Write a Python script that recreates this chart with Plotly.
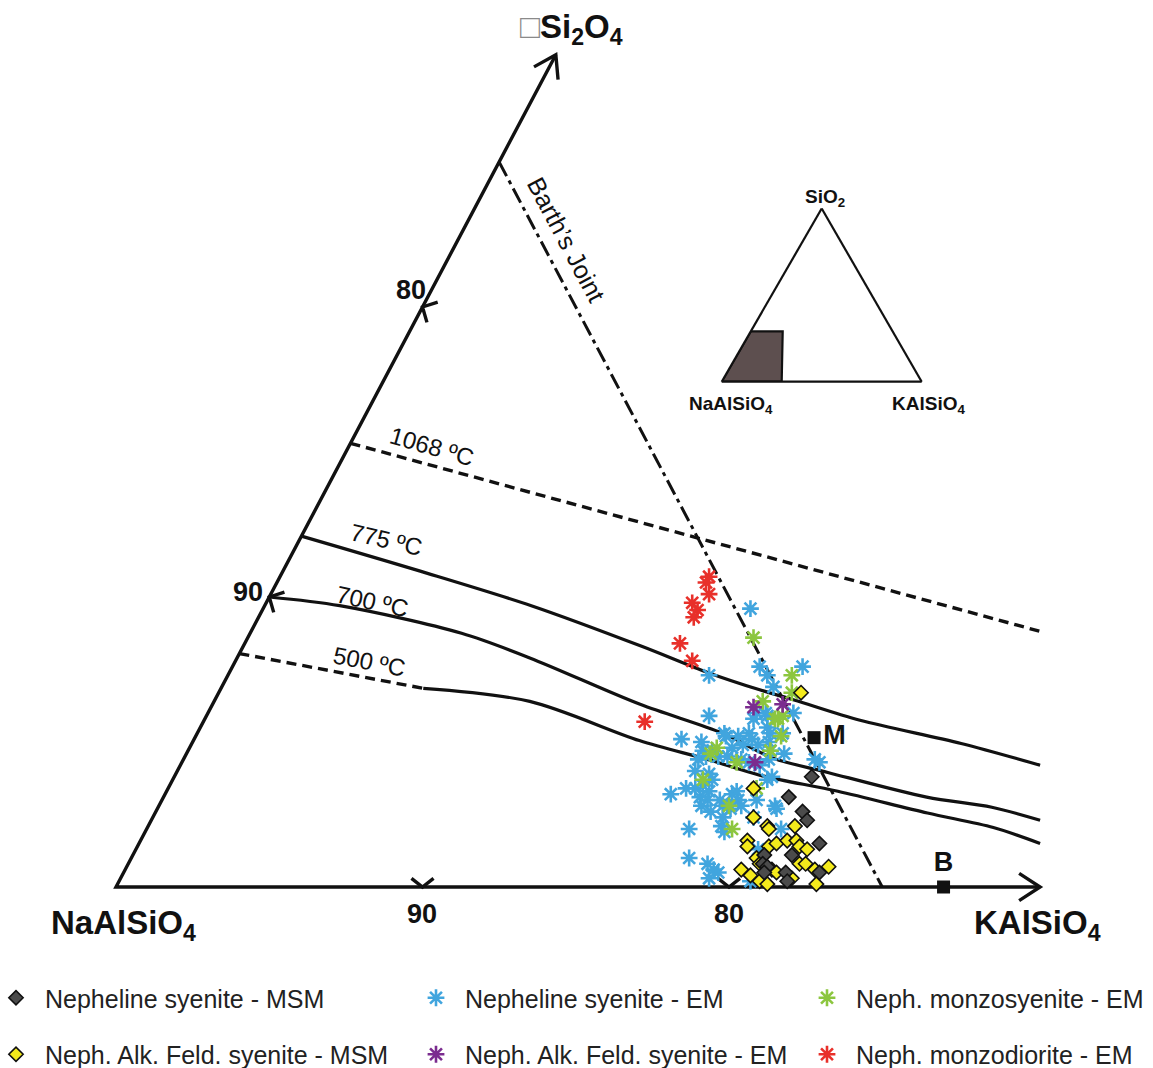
import math
import plotly.graph_objects as go

# ---------------------------------------------------------------------------
# Compositions in wt% (Ks = KAlSiO4, Qz = Si2O4; NaAlSiO4 = 100 - Ks - Qz)
# ---------------------------------------------------------------------------
NS_MSM_KS = [20.8, 20.4, 21.1, 21.4, 22.2, 21.5, 20.6, 20.7, 20.9, 21.6, 21.8, 20.9, 22.7]
NS_MSM_QZ = [3.8, 3.1, 2.6, 2.3, 1.5, 1.1, 1.1, 0.8, 0.7, 0.5, 0.2, 0.5, 0.5]

NAFS_MSM_KS = [19.0, 19.1, 19.6, 20.2, 20.3, 21.1, 19.8, 20.6, 20.8, 21.1, 21.4, 21.6, 21.9, 19.9,
               20.4, 20.6, 21.1, 20.1, 20.5, 20.9, 21.2, 21.3, 21.9, 21.9, 22.1, 22.5, 22.9, 22.8]
NAFS_MSM_QZ = [6.7, 3.4, 2.4, 2.1, 2.0, 2.1, 1.6, 1.4, 1.5, 1.6, 1.6, 1.4, 1.3, 1.4,
               1.0, 0.8, 0.6, 0.6, 0.4, 0.2, 0.1, 0.5, 0.3, 0.8, 0.8, 0.6, 0.7, 0.1]

NS_EM_KS = [15.9, 17.2, 17.6, 18.0, 18.6, 15.7, 16.4, 19.1, 17.9, 18.2, 18.3, 17.9, 17.2, 17.7,
            18.0, 15.9, 18.5, 18.7, 19.1, 17.3, 18.2, 18.0, 17.7, 18.5, 18.8, 19.0, 19.5, 16.6,
            16.8, 17.1, 16.8, 17.0, 17.4, 17.7, 18.2, 18.5, 18.9, 19.1, 19.4, 19.5, 16.9, 17.4,
            17.6, 17.4, 17.7, 17.5, 17.8, 17.2, 16.9, 16.5, 18.2, 18.4, 18.5, 18.8, 19.0, 18.7,
            18.6, 18.7, 18.9, 18.6, 17.7, 18.1, 19.4, 20.1, 20.2, 19.6, 17.7, 20.7, 18.2, 18.9,
            19.2, 19.4, 19.2, 20.6, 20.3, 20.6, 20.8]
NS_EM_QZ = [9.6, 7.6, 7.3, 6.9, 7.6, 7.3, 5.9, 6.0, 6.0, 6.0, 5.9, 5.8, 5.3, 5.2,
            5.3, 5.1, 5.5, 5.3, 5.3, 5.2, 5.1, 4.9, 4.8, 4.9, 5.0, 4.7, 4.6, 5.0,
            4.7, 4.7, 4.4, 4.5, 4.5, 4.5, 4.4, 4.3, 4.2, 4.4, 3.7, 3.8, 4.0, 3.9,
            3.7, 3.5, 3.3, 3.1, 3.0, 3.4, 3.4, 3.2, 3.0, 2.8, 3.2, 3.0, 2.8, 2.7,
            2.4, 2.1, 1.9, 3.3, 2.8, 2.6, 3.0, 2.8, 2.7, 2.4, 2.0, 2.0, 1.0, 0.8,
            0.6, 0.5, 0.3, 0.2, 1.3, 4.4, 4.3]

NMS_EM_KS = [16.5, 18.4, 18.7, 17.9, 18.7, 18.8, 17.2, 17.1, 18.1, 17.3, 19.2, 18.6, 19.1, 19.0, 19.1, 18.6]
NMS_EM_QZ = [8.6, 7.3, 6.7, 6.4, 5.8, 5.9, 4.8, 4.6, 4.3, 3.7, 3.4, 2.8, 2.0, 4.7, 5.2, 5.8]

NAFS_EM_KS = [17.7, 18.6, 18.7]
NAFS_EM_QZ = [6.2, 6.3, 4.3]

NMD_EM_KS = [14.0, 14.0, 14.3, 13.9, 14.2, 14.2, 14.2, 14.9, 14.4]
NMD_EM_QZ = [10.7, 10.5, 10.1, 9.8, 9.55, 9.3, 8.4, 7.8, 5.7]

# Reference compositions
REF_NAMES = ["M", "B"]
REF_KS = [20.2, 27.0]
REF_QZ = [5.15, 0.0]

# Isotherms of the minimum-melt trough
T1068_KS = [0.0, 25.8]
T1068_QZ = [15.3, 8.8]
T775_KS = [0.0, 4.45, 8.7, 13.0, 15.6, 17.6, 18.9, 21.4, 25.1, 28.05]
T775_QZ = [12.1, 10.9, 9.7, 8.3, 7.4, 6.8, 6.45, 5.75, 4.95, 4.2]
T700_KS = [0.0, 2.45, 6.9, 9.55, 13.95, 17.15, 19.2, 21.25, 24.9, 27.2, 29.0]
T700_QZ = [10.0, 9.7, 8.75, 7.9, 6.3, 5.3, 4.45, 3.95, 3.1, 2.75, 2.3]
T500_KS = [0.0, 6.6, 10.3, 14.55, 17.1, 19.1, 21.9, 25.2, 27.6, 29.4]
T500_QZ = [8.05, 6.85, 6.4, 5.05, 4.4, 3.85, 3.3, 2.55, 2.05, 1.5]
T500_DASHED_UNTIL = 2   # first segment (to Ks 6.6) is drawn dashed

# Barth's joint: line of constant NaAlSiO4 = 75 %
BARTH_KS = [0.0, 25.0]
BARTH_QZ = [25.0, 0.0]

# Axis extents and ticks (percent)
KS_AXIS_END = 30.15
QZ_AXIS_END = 28.7
TICK_VALUES = [10, 20]
TICK_LABELS = ["90", "80"]

# Inset: full system with the enlarged field shaded (SiO2, NaAlSiO4, KAlSiO4 in %)
INSET_A = [0, 0, 29, 29, 0]
INSET_B = [100, 70, 55, 71, 100]
INSET_C = [0, 30, 16, 0, 0]

# ---------------------------------------------------------------------------
W, H = 1153, 1068
X0, Y0 = 116.0, 887.0      # pixel position of the NaAlSiO4 corner
SX, SY = 30.65, 29.0       # pixels per percent (horizontal, vertical)
FONT = "Liberation Sans, Arial, Helvetica, sans-serif"


def cart(ks, qz):
    """Ternary (Ks, Qz) -> plot coordinates."""
    return [k + q / 2.0 for k, q in zip(ks, qz)], list(qz)


def paper(xp, yp):
    return xp / W, 1 - yp / H


def chevron(x, y, centre_deg, half_deg, arm_px):
    """Two arms leaving the vertex (x, y) around a screen direction (y up)."""
    xs, ys = [], []
    for s in (1, -1):
        a = math.radians(centre_deg + s * half_deg)
        xs.append(x + arm_px * math.cos(a) / SX)
        ys.append(y + arm_px * math.sin(a) / SY)
    return [xs[0], x, xs[1], None], [ys[0], y, ys[1], None]


fig = go.Figure()

# --- triangle axes, arrowheads and ticks -----------------------------------
ax_x, ax_y = cart([KS_AXIS_END, 0.0, 0.0], [0.0, 0.0, QZ_AXIS_END])
left_dir = math.degrees(math.atan2(ax_y[2] * SY, ax_x[2] * SX))
frame_x, frame_y = list(ax_x) + [None], list(ax_y) + [None]
for (vx, vy), d in (((ax_x[0], ax_y[0]), 0.0), ((ax_x[2], ax_y[2]), left_dir)):
    cx_, cy_ = chevron(vx, vy, d + 180, 33, 25)
    frame_x += cx_
    frame_y += cy_
bt_x, bt_y = cart(TICK_VALUES, [0.0] * len(TICK_VALUES))
lt_x, lt_y = cart([0.0] * len(TICK_VALUES), TICK_VALUES)
for vx, vy in zip(bt_x, bt_y):
    cx_, cy_ = chevron(vx, vy, 90, 52, 14)
    frame_x += cx_
    frame_y += cy_
for vx, vy in zip(lt_x, lt_y):
    cx_, cy_ = chevron(vx, vy, left_dir - 90, 46, 16)
    frame_x += cx_
    frame_y += cy_
fig.add_trace(go.Scatter(x=frame_x, y=frame_y, mode="lines", showlegend=False, hoverinfo="skip",
                         line=dict(color="#111", width=3.4)))


# --- isotherms and Barth's joint -------------------------------------------
def add_curve(ks, qz, dash="solid", shape="spline", width=3.2):
    x, y = cart(ks, qz)
    fig.add_trace(go.Scatter(x=x, y=y, mode="lines", showlegend=False, hoverinfo="skip",
                             line=dict(color="#111", width=width, dash=dash, shape=shape,
                                       smoothing=0.9)))


add_curve(T1068_KS, T1068_QZ, dash="10px,6px", shape="linear", width=3.4)
add_curve(T775_KS, T775_QZ)
add_curve(T700_KS, T700_QZ)
add_curve(T500_KS[:T500_DASHED_UNTIL], T500_QZ[:T500_DASHED_UNTIL], dash="10px,6px",
          shape="linear", width=3.4)
add_curve(T500_KS[T500_DASHED_UNTIL - 1:], T500_QZ[T500_DASHED_UNTIL - 1:])
add_curve(BARTH_KS, BARTH_QZ, dash="16px,5px,4px,5px", shape="linear", width=3.0)


# --- samples ----------------------------------------------------------------
def star(colour):
    return dict(symbol="asterisk-open", size=14, color=colour, line=dict(color=colour, width=2.6))


def diamond(colour):
    return dict(symbol="diamond", size=11, color=colour, line=dict(color="#111", width=1.6))


def add_samples(name, ks, qz, legend, rank, marker):
    x, y = cart(ks, qz)
    fig.add_trace(go.Scatter(x=x, y=y, mode="markers", name=name, marker=marker,
                             legend=legend, legendgroup=name, legendrank=rank))


add_samples("Nepheline syenite - EM", NS_EM_KS, NS_EM_QZ, "legend2", 1, star("#41a5de"))
add_samples("Neph. monzosyenite - EM", NMS_EM_KS, NMS_EM_QZ, "legend3", 1, star("#8cc63f"))
add_samples("Neph. monzodiorite - EM", NMD_EM_KS, NMD_EM_QZ, "legend3", 2, star("#e8302a"))
add_samples("Neph. Alk. Feld. syenite - EM", NAFS_EM_KS, NAFS_EM_QZ, "legend2", 2, star("#7b2c8f"))
add_samples("Neph. Alk. Feld. syenite - MSM", NAFS_MSM_KS, NAFS_MSM_QZ, "legend", 2, diamond("#f4ea1c"))
add_samples("Nepheline syenite - MSM", NS_MSM_KS, NS_MSM_QZ, "legend", 1, diamond("#4b4b4b"))

# --- reference points M and B ------------------------------------------------
rx, ry = cart(REF_KS, REF_QZ)
fig.add_trace(go.Scatter(x=rx, y=ry, mode="markers+text", showlegend=False, hoverinfo="skip",
                         text=[f"<b>{n}</b>" for n in REF_NAMES],
                         textposition=["middle right", "top center"],
                         textfont=dict(family=FONT, size=27, color="#111"),
                         marker=dict(symbol="square", size=13, color="#111")))

# --- inset: whole system with the enlarged field ----------------------------
fig.add_trace(go.Scatterternary(a=INSET_A, b=INSET_B, c=INSET_C, mode="lines", fill="toself",
                                fillcolor="#5d4f4f", line=dict(color="#111", width=2.2),
                                showlegend=False, hoverinfo="skip", subplot="ternary"))

# --- text -------------------------------------------------------------------
ann = []


def label(text, xp, yp, size, bold=False, angle=0, color="#111"):
    x, y = paper(xp, yp)
    ann.append(dict(text=f"<b>{text}</b>" if bold else text, x=x, y=y, xref="paper", yref="paper",
                    showarrow=False, textangle=angle, xanchor="center", yanchor="middle",
                    font=dict(family=FONT, size=size, color=color)))


label("<span style='color:#8a8a8a;font-weight:normal'>\u25a1</span>Si<sub>2</sub>O<sub>4</sub>",
      571, 29, 33, bold=True)
label("NaAlSiO<sub>4</sub>", 123, 925, 33, bold=True)
label("KAlSiO<sub>4</sub>", 1037, 925, 33, bold=True)
for t, xp in zip(TICK_LABELS, (422, 729)):
    label(t, xp, 914, 27, bold=True)
for t, (xp, yp) in zip(TICK_LABELS, ((248, 592), (411, 290))):
    label(t, xp, yp, 27, bold=True)
label("1068 \u00baC", 432, 446, 24, angle=16)
label("775 \u00baC", 386, 539, 24, angle=13)
label("700 \u00baC", 373, 601, 24, angle=12)
label("500 \u00baC", 369, 661, 24, angle=11)
label("Barth\u2019s Joint", 566, 239, 25, angle=62)
label("SiO<sub>2</sub>", 825, 198, 19, bold=True)
label("NaAlSiO<sub>4</sub>", 731, 405, 19, bold=True)
label("KAlSiO<sub>4</sub>", 928, 405, 19, bold=True)

LEG = dict(font=dict(family=FONT, size=25, color="#222"), bgcolor="rgba(0,0,0,0)",
           traceorder="grouped", tracegroupgap=21, orientation="v", itemwidth=48,
           xanchor="left", yanchor="top")
LEG_TOP = paper(0, 975)[1]

ter_axis = dict(showticklabels=False, ticks="", showgrid=False, linecolor="#111", linewidth=2.2,
                title=dict(text=""))
fig.update_layout(
    width=W, height=H, autosize=False,
    margin=dict(l=0, r=0, t=0, b=0, pad=0, autoexpand=False),
    paper_bgcolor="white", plot_bgcolor="white",
    xaxis=dict(range=[-X0 / SX, (W - X0) / SX], visible=False, fixedrange=True),
    yaxis=dict(range=[-(H - Y0) / SY, Y0 / SY], visible=False, fixedrange=True),
    ternary=dict(sum=100, bgcolor="rgba(0,0,0,0)",
                 domain=dict(x=[721.7 / W, 921.7 / W], y=[1 - 381.7 / H, 1 - 208.5 / H]),
                 aaxis=ter_axis, baxis=ter_axis, caxis=ter_axis),
    legend=dict(x=-13 / W, y=LEG_TOP, **LEG),
    legend2=dict(x=407 / W, y=LEG_TOP, **LEG),
    legend3=dict(x=798 / W, y=LEG_TOP, **LEG),
    annotations=ann,
    showlegend=True,
)

fig.write_html("out.html")
